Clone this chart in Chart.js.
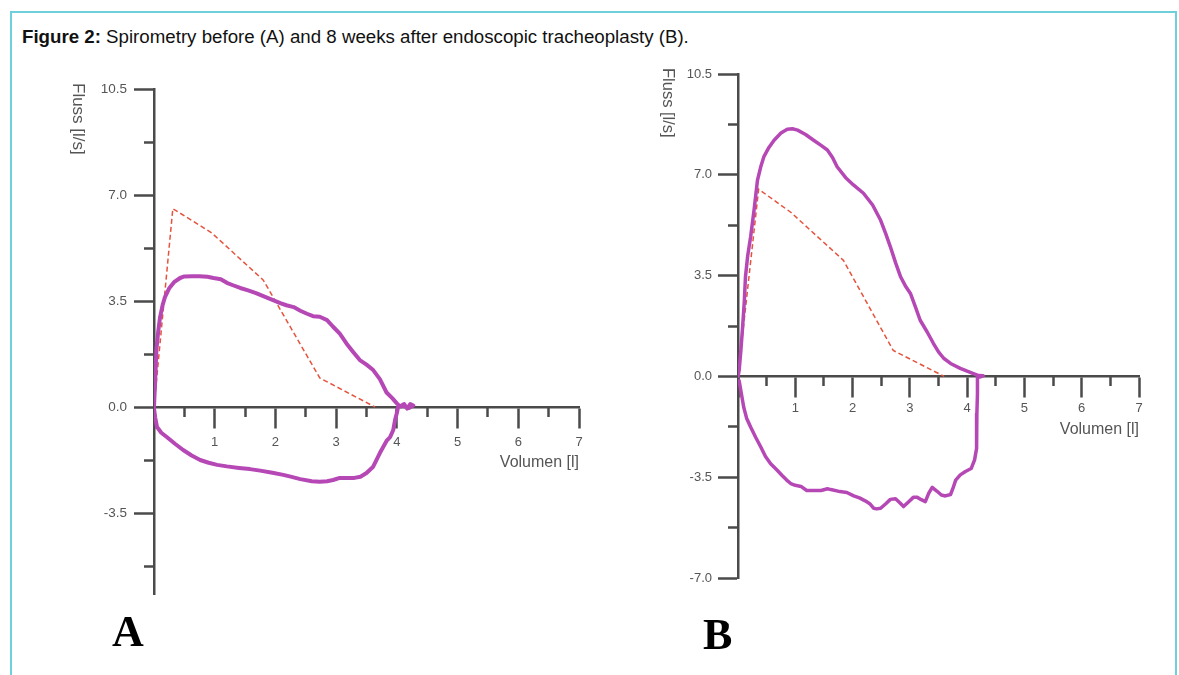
<!DOCTYPE html>
<html><head><meta charset="utf-8">
<script src="https://cdn.jsdelivr.net/npm/chart.js@4.4.0/dist/chart.umd.min.js"></script>
<style>
html,body{margin:0;padding:0;background:#fff;width:1179px;height:675px;overflow:hidden;position:relative;font-family:"Liberation Sans",Arial,sans-serif;}
#frame{position:absolute;left:10px;top:11px;width:1163px;height:700px;border:2px solid #6fd0dc;}
#head{position:absolute;left:22px;top:28px;font-size:18.7px;line-height:18.7px;color:#111;white-space:nowrap;}
.pl{position:absolute;font-family:"Liberation Serif","Times New Roman",serif;font-weight:bold;font-size:44px;line-height:44px;color:#000;}
canvas{position:absolute;top:0;}
</style></head><body>
<div id="frame"></div>
<div id="head"><b>Figure 2:</b> Spirometry before (A) and 8 weeks after endoscopic tracheoplasty (B).</div>
<canvas id="ca" width="640" height="675" style="left:0"></canvas>
<canvas id="cb" width="539" height="675" style="left:640px"></canvas>
<div class="pl" style="left:112px;top:610px">A</div>
<div class="pl" style="left:703px;top:613px">B</div>
<script>
// ---- data: [volume (l), flow (l/s)] ----
const A_EXP = [[0,0],[0.02,0.9],[0.04,1.9],[0.07,2.5],[0.10,2.97],[0.14,3.35],[0.18,3.63],[0.25,3.92],[0.33,4.12],[0.43,4.26],[0.50,4.31],[0.62,4.32],[0.75,4.32],[0.88,4.30],[0.98,4.26],[1.10,4.22],[1.20,4.10],[1.30,4.02],[1.42,3.93],[1.55,3.85],[1.68,3.76],[1.80,3.66],[1.95,3.54],[2.08,3.43],[2.18,3.36],[2.30,3.30],[2.41,3.18],[2.52,3.08],[2.62,3.00],[2.73,2.98],[2.85,2.87],[2.95,2.65],[3.06,2.42],[3.17,2.10],[3.28,1.82],[3.39,1.55],[3.50,1.40],[3.61,1.22],[3.72,0.92],[3.83,0.48],[3.92,0.30],[4.00,0.12],[4.05,0.02]];
const A_END = [[4.12,0.10],[4.17,-0.05],[4.22,0.10],[4.27,0.05],[4.20,-0.03],[4.10,0.04],[4.02,0.0]];
const A_INSP = [[4.00,-0.2],[3.97,-0.43],[3.94,-0.76],[3.89,-0.99],[3.83,-1.12],[3.72,-1.52],[3.61,-1.97],[3.50,-2.18],[3.40,-2.30],[3.30,-2.34],[3.20,-2.34],[3.06,-2.34],[2.95,-2.41],[2.85,-2.45],[2.73,-2.47],[2.60,-2.45],[2.41,-2.38],[2.25,-2.30],[2.13,-2.24],[1.95,-2.17],[1.75,-2.10],[1.58,-2.05],[1.40,-2.01],[1.20,-1.96],[1.04,-1.91],[0.90,-1.84],[0.76,-1.75],[0.62,-1.60],[0.48,-1.42],[0.35,-1.22],[0.21,-0.99],[0.12,-0.85],[0.05,-0.66],[0.02,-0.35],[0,-0.05]];
const A_PRED = [[0,0],[0.31,6.55],[0.95,5.75],[1.80,4.19],[2.73,0.96],[3.64,0]];

const B_EXP = [[0,0],[0.02,0.21],[0.05,0.9],[0.08,1.71],[0.11,2.6],[0.13,3.45],[0.17,4.2],[0.22,4.84],[0.28,5.77],[0.34,6.81],[0.40,7.3],[0.45,7.62],[0.54,7.95],[0.63,8.2],[0.75,8.45],[0.86,8.58],[0.95,8.6],[1.04,8.55],[1.18,8.4],[1.32,8.2],[1.45,8.02],[1.56,7.86],[1.65,7.6],[1.73,7.28],[1.88,6.9],[2.02,6.64],[2.19,6.36],[2.35,5.95],[2.49,5.42],[2.58,4.95],[2.66,4.5],[2.75,3.95],[2.84,3.45],[2.92,3.15],[3.01,2.88],[3.10,2.4],[3.18,1.95],[3.30,1.55],[3.41,1.15],[3.50,0.85],[3.59,0.63],[3.71,0.45],[3.88,0.28],[4.00,0.18],[4.11,0.10],[4.20,0.03]];
const B_END = [[4.28,0.02],[4.22,-0.02],[4.18,0.0]];
const B_INSP = [[4.18,-0.1],[4.18,-0.6],[4.17,-1.3],[4.17,-2.0],[4.16,-2.5],[4.13,-2.9],[4.07,-3.2],[3.97,-3.3],[3.88,-3.42],[3.80,-3.6],[3.75,-3.9],[3.71,-4.1],[3.62,-4.15],[3.55,-4.12],[3.47,-3.98],[3.39,-3.85],[3.33,-4.05],[3.27,-4.35],[3.20,-4.28],[3.13,-4.2],[3.06,-4.2],[2.98,-4.35],[2.89,-4.52],[2.82,-4.38],[2.75,-4.25],[2.66,-4.27],[2.58,-4.42],[2.49,-4.58],[2.42,-4.6],[2.37,-4.58],[2.30,-4.42],[2.22,-4.32],[2.12,-4.22],[2.02,-4.15],[1.90,-4.03],[1.78,-4.0],[1.62,-3.93],[1.56,-3.9],[1.45,-3.96],[1.30,-3.96],[1.20,-3.96],[1.10,-3.82],[1.00,-3.78],[0.92,-3.72],[0.85,-3.6],[0.77,-3.44],[0.68,-3.25],[0.57,-3.03],[0.48,-2.78],[0.40,-2.46],[0.31,-2.12],[0.22,-1.76],[0.15,-1.45],[0.10,-1.07],[0.05,-0.5],[0.02,-0.15]];
const B_PRED = [[0,0],[0.36,6.5],[0.92,5.7],[1.84,4.03],[2.71,0.9],[3.6,0]];

// ---- ticks ----
const X_MAJOR = [0,1,2,3,4,5,6,7];
const X_MINOR = [0.5,1.5,2.5,3.5,4.5,5.5,6.5];
const Y_MAJOR_A = [-3.5,0,3.5,7,10.5];
const Y_MAJOR_B = [-7,-3.5,0,3.5,7,10.5];
const Y_MINOR = [-5.25,-1.75,1.75,5.25,8.75];
const X_TITLE = 'Volumen [l]';
const Y_TITLE = 'Fluss [l/s]';

Chart.defaults.font.family = '"Liberation Sans", Arial, sans-serif';

const yTitlePlugin = {
  id: 'ytitle',
  afterDraw(chart, args, o) {
    const ctx = chart.ctx;
    ctx.save();
    ctx.translate(o.x, o.y);
    ctx.rotate(Math.PI / 2);
    ctx.font = o.size + 'px "Liberation Sans", Arial, sans-serif';
    ctx.fillStyle = '#555';
    ctx.textAlign = 'left';
    ctx.textBaseline = 'middle';
    ctx.fillText(Y_TITLE, 0, 0);
    ctx.restore();
  }
};

const pts = arr => arr.map(([x, y]) => ({x, y}));
const AX = '#4a4a4a';
const LAB = '#555';
const YW = 60;

function makeChart(id, c) {
  const setTicks = list => s => { s.ticks = list.map(v => ({value: v})); };
  return new Chart(document.getElementById(id), {
    type: 'scatter',
    data: {datasets: [
      {data: pts(c.loop), showLine: true, borderColor: '#b648b6', borderWidth: c.lw, pointRadius: 0, tension: 0, borderJoinStyle: 'round', borderCapStyle: 'round'},
      {data: pts(c.pred), showLine: true, borderColor: '#e5533d', borderWidth: 1.5, borderDash: [5, 3], pointRadius: 0, tension: 0}
    ]},
    options: {
      responsive: false, animation: false, devicePixelRatio: 1,
      layout: {padding: c.pad},
      plugins: {legend: {display: false}, tooltip: {enabled: false}, ytitle: c.yt},
      scales: {
        x: {type: 'linear', position: {y: 0}, min: 0, max: 7,
          afterBuildTicks: setTicks(X_MAJOR), afterFit: s => { s.height = c.xh; },
          ticks: {autoSkip: false, maxRotation: 0, padding: c.xpad, color: LAB, font: {size: 13}, callback: v => v === 0 ? '' : String(v)},
          grid: {drawOnChartArea: false, drawTicks: true, tickLength: 20, tickColor: AX, tickWidth: 2.5},
          border: {display: true, color: AX, width: 2.5},
          title: {display: true, text: X_TITLE, align: 'end', color: LAB, font: {size: 16}, padding: 0}},
        x2: {type: 'linear', axis: 'x', position: {y: 0}, min: 0, max: 7,
          afterBuildTicks: setTicks(X_MINOR), afterFit: s => { s.height = 0; },
          ticks: {display: false, autoSkip: false},
          grid: {drawOnChartArea: false, drawTicks: true, tickLength: 10, tickColor: AX, tickWidth: 2.5},
          border: {display: false}},
        y: {type: 'linear', position: 'left', min: c.ymin, max: 10.5,
          afterBuildTicks: setTicks(c.ymaj), afterFit: s => { s.width = YW; },
          ticks: {autoSkip: false, padding: c.ypad, color: LAB, font: {size: c.yfs}, callback: v => Number(v).toFixed(1)},
          grid: {drawOnChartArea: false, drawTicks: true, tickLength: 20, tickColor: AX, tickWidth: 2.5},
          border: {display: true, color: AX, width: 2.5}},
        y2: {type: 'linear', axis: 'y', position: {x: 0}, min: c.ymin, max: 10.5,
          afterBuildTicks: setTicks(Y_MINOR), afterFit: s => { s.width = 0; },
          ticks: {display: false, autoSkip: false},
          grid: {drawOnChartArea: false, drawTicks: true, tickLength: 10, tickColor: AX, tickWidth: 2.5},
          border: {display: false}}
      }
    },
    plugins: [yTitlePlugin]
  });
}

makeChart('ca', {
  loop: A_EXP.concat(A_END, A_INSP), pred: A_PRED, lw: 4,
  ymin: -6.2, ymaj: Y_MAJOR_A,
  pad: {left: 154 - YW, top: 89, right: 61, bottom: 80.2},
  xh: 65.3, xpad: 7.2, ypad: 7, yfs: 13.5,
  yt: {x: 78, y: 83, size: 17}
});
makeChart('cb', {
  loop: B_EXP.concat(B_END, B_INSP), pred: B_PRED, lw: 3.5,
  ymin: -7, ymaj: Y_MAJOR_B,
  pad: {left: 98 - YW, top: 74, right: 40, bottom: 97},
  xh: 62.6, xpad: 4.2, ypad: 6, yfs: 13,
  yt: {x: 28, y: 68, size: 16.5}
});
</script>
</body></html>
